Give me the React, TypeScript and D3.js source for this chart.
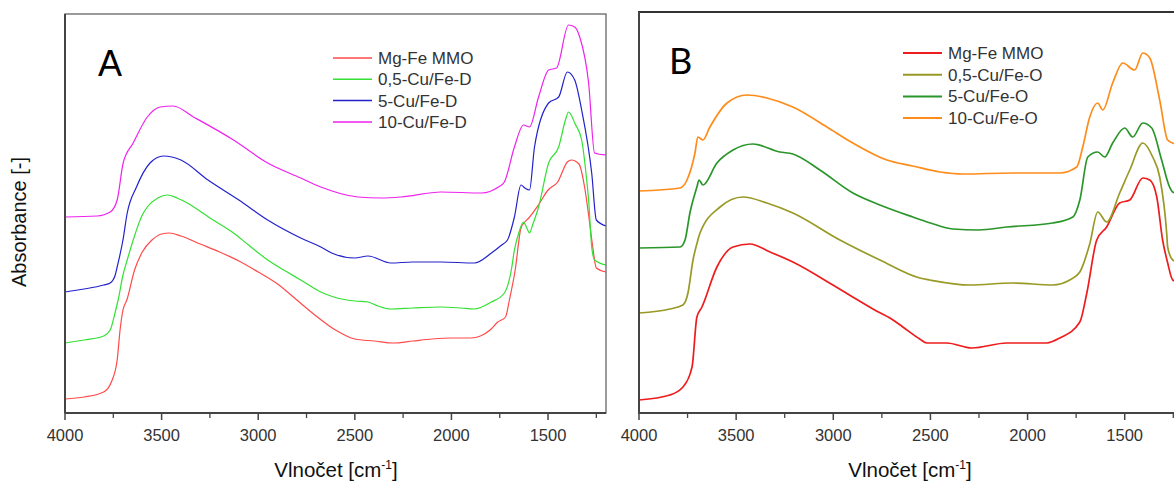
import React, { useEffect, useRef } from 'react';
import * as d3 from 'd3';

// wavenumber [cm-1], absorbance [a.u., offset stacked]
const mgFeA = [
  [4000, 14], [3900, 16], [3800, 21], [3760, 31], [3730, 53], [3715, 83], [3700, 103], [3680, 113],
  [3640, 143], [3600, 161], [3550, 173], [3500, 179], [3460, 180], [3400, 177], [3300, 169], [3200, 161],
  [3100, 152], [3000, 141], [2900, 129], [2800, 113], [2700, 97], [2600, 83], [2500, 74], [2400, 72],
  [2300, 70], [2200, 72], [2100, 74], [2000, 75], [1900, 75], [1850, 77], [1800, 83], [1760, 91],
  [1720, 96], [1700, 113], [1670, 143], [1640, 185], [1620, 191], [1600, 195], [1550, 208], [1500, 223],
  [1450, 231], [1400, 251], [1380, 253], [1340, 249], [1310, 225], [1290, 198], [1270, 168], [1250, 145],
  [1200, 141],
];
const cu05D = [
  [4000, 70], [3900, 73], [3800, 77], [3766, 83], [3740, 101], [3725, 113], [3700, 138], [3678, 153],
  [3647, 173], [3600, 198], [3574, 206], [3520, 215], [3470, 218], [3420, 215], [3367, 210], [3250, 195],
  [3128, 180], [3050, 168], [2951, 153], [2850, 141], [2780, 133], [2676, 121], [2609, 116], [2500, 112],
  [2432, 111], [2380, 107], [2313, 104], [2200, 105], [2053, 106], [1950, 105], [1882, 104], [1793, 111],
  [1726, 120], [1690, 143], [1674, 163], [1650, 181], [1627, 191], [1610, 185], [1596, 180], [1580, 188],
  [1549, 206], [1497, 250], [1445, 266], [1410, 293], [1394, 301], [1380, 298], [1362, 290], [1326, 273],
  [1300, 233], [1290, 213], [1274, 166], [1259, 153], [1200, 148],
];
const cu5D = [
  [4000, 121], [3900, 124], [3800, 128], [3766, 130], [3740, 138], [3730, 146], [3700, 173], [3678, 200],
  [3630, 226], [3560, 250], [3490, 257], [3400, 253], [3260, 233], [3100, 213], [2951, 193], [2780, 175],
  [2676, 166], [2620, 160], [2500, 155], [2432, 157], [2313, 150], [2200, 151], [2053, 151], [1882, 150],
  [1793, 160], [1740, 168], [1710, 173], [1674, 196], [1640, 228], [1620, 225], [1596, 223], [1570, 266],
  [1497, 310], [1445, 316], [1400, 341], [1362, 333], [1326, 303], [1274, 240], [1250, 193], [1200, 187],
];
const cu10D = [
  [4000, 196], [3834, 197], [3766, 201], [3730, 213], [3699, 250], [3647, 270], [3574, 296], [3507, 306],
  [3440, 307], [3335, 296], [3128, 273], [2951, 250], [2780, 235], [2676, 226], [2484, 216], [2364, 215],
  [2261, 216], [2053, 221], [1845, 220], [1757, 226], [1726, 231], [1674, 266], [1627, 288], [1596, 286],
  [1549, 316], [1497, 343], [1456, 345], [1394, 388], [1362, 386], [1336, 376], [1290, 330], [1259, 260],
  [1200, 258],
];

const mgFeB = [
  [4000, 13], [3841, 18], [3774, 26], [3727, 46], [3702, 96], [3676, 106], [3599, 146], [3516, 166],
  [3429, 169], [3326, 161], [3208, 151], [3002, 128], [2900, 116], [2796, 104], [2700, 94], [2642, 86],
  [2555, 74], [2519, 70], [2416, 70], [2287, 65], [2107, 70], [1901, 70], [1834, 75], [1731, 91],
  [1695, 120], [1644, 173], [1593, 186], [1526, 210], [1474, 213], [1407, 235], [1371, 233], [1335, 216],
  [1305, 173], [1280, 151], [1253, 133], [1200, 129],
];
const cu05O = [
  [4000, 100], [3841, 104], [3774, 108], [3748, 120], [3722, 153], [3697, 173], [3686, 180], [3583, 206],
  [3465, 216], [3342, 210], [3208, 200], [2966, 173], [2760, 153], [2555, 135], [2503, 133], [2297, 128],
  [2076, 130], [1870, 128], [1783, 133], [1731, 141], [1680, 169], [1639, 201], [1593, 191], [1526, 220],
  [1474, 243], [1407, 270], [1356, 256], [1320, 236], [1284, 180], [1279, 166], [1253, 153], [1200, 149],
];
const cu5O = [
  [4000, 165], [3789, 166], [3763, 173], [3738, 200], [3702, 226], [3691, 233], [3671, 228], [3599, 250],
  [3516, 263], [3414, 269], [3275, 261], [3208, 259], [3069, 243], [2899, 220], [2760, 208], [2591, 196],
  [2500, 190], [2385, 184], [2250, 183], [2107, 186], [1870, 190], [1767, 196], [1731, 213], [1690, 256],
  [1639, 261], [1603, 256], [1562, 270], [1500, 285], [1459, 276], [1407, 290], [1361, 285], [1310, 253],
  [1269, 226], [1253, 221], [1200, 218],
];
const cu10O = [
  [4000, 222], [3789, 225], [3753, 233], [3712, 260], [3697, 276], [3671, 273], [3635, 286], [3547, 310],
  [3444, 318], [3342, 315], [3208, 306], [3033, 286], [2899, 270], [2724, 253], [2591, 247], [2450, 241],
  [2333, 239], [2076, 240], [1834, 240], [1747, 246], [1716, 266], [1680, 296], [1639, 310], [1613, 303],
  [1562, 330], [1510, 350], [1449, 343], [1407, 360], [1371, 355], [1320, 313], [1279, 273], [1253, 270],
  [1200, 267],
];

const namesA = ['Mg-Fe MMO', '0,5-Cu/Fe-D', '5-Cu/Fe-D', '10-Cu/Fe-D'];
const namesB = ['Mg-Fe MMO', '0,5-Cu/Fe-O', '5-Cu/Fe-O', '10-Cu/Fe-O'];
const colorsA = ['#ff4a4a', '#33e033', '#2222cc', '#ee22ee'];
const colorsB = ['#ee1c1c', '#999926', '#2a962a', '#ff8c1a'];
const waveTicks = [4000, 3500, 3000, 2500, 2000, 1500];
const minorTicks = [3750, 3250, 2750, 2250, 1750, 1250];

const App = () => {
  const svgRef = useRef(null);

  useEffect(() => {
    const svg = d3.select(svgRef.current);
    svg.selectAll('*').remove();

    const bottom = 413;
    const y = d3.scaleLinear().domain([0, 400]).range([bottom, 13]);

    const panels = [
      {
        id: 'A', left: 65, right: 606, top: 14, series: [mgFeA, cu05D, cu5D, cu10D],
        names: namesA, colors: colorsA, lw: 1.2, frame: '#666', frameW: 1.3,
        letter: { x: 98, y: 76, font: 'Liberation Sans, Arial, sans-serif' },
        legend: { x: 333, y: 58, gap: 21.3 }, title: 336,
      },
      {
        id: 'B', left: 639, right: 1183, top: 12, series: [mgFeB, cu05O, cu5O, cu10O],
        names: namesB, colors: colorsB, lw: 1.7, frame: '#333', frameW: 2,
        letter: { x: 669, y: 74, font: 'Lato, sans-serif' },
        legend: { x: 903, y: 53, gap: 21.7 }, title: 910,
      },
    ];

    panels.forEach(p => {
      const x = d3.scaleLinear().domain([4000, 1200]).range([p.left, p.right]);
      const g = svg.append('g');

      g.append('clipPath')
        .attr('id', `clip-${p.id}`)
        .append('rect')
        .attr('x', p.left)
        .attr('y', p.top)
        .attr('width', p.right - p.left)
        .attr('height', bottom - p.top);

      const line = d3
        .line()
        .x(d => x(d[0]))
        .y(d => y(d[1]))
        .curve(d3.curveMonotoneX);

      p.series.forEach((s, i) => {
        g.append('path')
          .datum(s)
          .attr('d', line)
          .attr('fill', 'none')
          .attr('stroke', p.colors[i])
          .attr('stroke-width', p.lw)
          .attr('stroke-linejoin', 'round')
          .attr('clip-path', `url(#clip-${p.id})`);
      });

      // frame
      g.append('rect')
        .attr('x', p.left)
        .attr('y', p.top)
        .attr('width', p.right - p.left)
        .attr('height', bottom - p.top)
        .attr('fill', 'none')
        .attr('stroke', p.frame)
        .attr('stroke-width', p.frameW);
      g.append('line')
        .attr('x1', p.left).attr('x2', p.left)
        .attr('y1', p.top).attr('y2', bottom)
        .attr('stroke', '#444').attr('stroke-width', 2);
      g.append('line')
        .attr('x1', p.left).attr('x2', p.right)
        .attr('y1', bottom).attr('y2', bottom)
        .attr('stroke', '#444').attr('stroke-width', 2);

      // ticks
      waveTicks.forEach(t => {
        g.append('line')
          .attr('x1', x(t)).attr('x2', x(t))
          .attr('y1', bottom).attr('y2', bottom + 7)
          .attr('stroke', '#444').attr('stroke-width', 1.5);
        g.append('text')
          .attr('x', x(t))
          .attr('y', bottom + 28)
          .attr('text-anchor', 'middle')
          .attr('font-family', 'Liberation Sans, Arial, sans-serif')
          .attr('font-size', 16.5)
          .attr('fill', '#333')
          .text(t);
      });
      minorTicks.forEach(t => {
        g.append('line')
          .attr('x1', x(t)).attr('x2', x(t))
          .attr('y1', bottom).attr('y2', bottom + 5)
          .attr('stroke', '#444').attr('stroke-width', 1.3);
      });

      // x title
      const title = g.append('text')
        .attr('x', p.title)
        .attr('y', 477)
        .attr('text-anchor', 'middle')
        .attr('font-family', 'Liberation Sans, Arial, sans-serif')
        .attr('font-size', 20.5)
        .attr('fill', '#111');
      title.append('tspan').text('Vlnočet [cm');
      title.append('tspan').attr('font-size', 12).attr('dy', -8).text('-1');
      title.append('tspan').attr('dy', 8).text(']');

      // panel letter
      g.append('text')
        .attr('x', p.letter.x)
        .attr('y', p.letter.y)
        .attr('font-family', p.letter.font)
        .attr('font-size', 36)
        .attr('fill', '#000')
        .text(p.id);

      // legend
      p.names.forEach((n, i) => {
        const ly = p.legend.y + i * p.legend.gap;
        g.append('line')
          .attr('x1', p.legend.x).attr('x2', p.legend.x + 39)
          .attr('y1', ly).attr('y2', ly)
          .attr('stroke', p.colors[i])
          .attr('stroke-width', p.lw + 0.3);
        g.append('text')
          .attr('x', p.legend.x + 45)
          .attr('y', ly + 6)
          .attr('font-family', 'Liberation Sans, Arial, sans-serif')
          .attr('font-size', 17)
          .attr('fill', '#333')
          .text(n);
      });
    });

    svg.append('text')
      .attr('transform', 'translate(26,222) rotate(-90)')
      .attr('text-anchor', 'middle')
      .attr('font-family', 'Liberation Sans, Arial, sans-serif')
      .attr('font-size', 20)
      .attr('fill', '#111')
      .text('Absorbance [-]');
  }, []);

  return (
    <svg
      ref={svgRef}
      width={1174}
      height={481}
      style={{ position: 'absolute', left: 0, top: 0, background: '#fff' }}
    />
  );
};

export default App;
